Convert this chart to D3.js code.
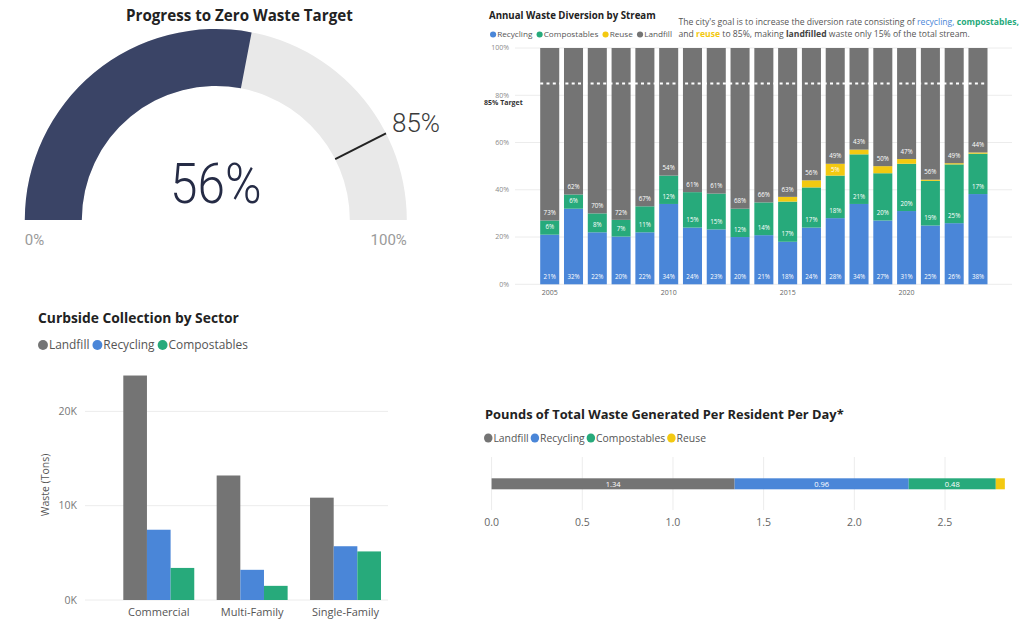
<!DOCTYPE html>
<html><head><meta charset="utf-8">
<script src="https://cdn.jsdelivr.net/npm/d3@7"></script>
<style>
html,body{margin:0;padding:0;background:#fff;}
svg{display:block;font-family:"Segoe UI","Open Sans","Noto Sans",sans-serif;}
</style></head>
<body>
<svg id="c" width="1024" height="621"></svg>
<script>
// ---------- DATA ----------
const gaugeValue = 0.56;
const gaugeTarget = 0.85;
const gaugeLabels = ["0%", "100%"];

const years = [2005,2006,2007,2008,2009,2010,2011,2012,2013,2014,2015,2016,2017,2018,2019,2020,2021,2022,2023];
const recyclingPct = [21,32,22,20,22,34,24,23,20,21,18,24,28,34,27,31,25,26,38];
const compostPct   = [6,6,8,7,11,12,15,15,12,14,17,17,18,21,20,20,19,25,17];
const reusePct     = [0,0,0,0,0,0,0,0,0,0,2,3,5,2,3,2,0.5,0.5,0.5];
const landfillPct  = [73,62,70,72,67,54,61,61,68,66,63,56,49,43,50,47,56,49,44];
const yearTicks = [2005,2010,2015,2020];
const pctTicks = [0,20,40,60,80,100];
const diversionTarget = 85;

const sectors = ["Commercial","Multi-Family","Single-Family"];
const landfillTons  = [23800,13200,10850];
const recyclingTons = [7450,3200,5700];
const compostTons   = [3400,1500,5150];
const tonTicks = [0,10000,20000];

const poundStreams = ["Landfill","Recycling","Compostables","Reuse"];
const poundValues = [1.34,0.96,0.48,0.05];
const poundTicks = [0,0.5,1.0,1.5,2.0,2.5];

const colors = {Recycling:"#4a86d8", Compostables:"#27aa7b", Reuse:"#f3c911", Landfill:"#747474"};

const svg = d3.select("#c");

function fit(sel, w){
  const len = sel.node().getComputedTextLength();
  const fs = parseFloat(sel.attr("font-size"));
  sel.attr("font-size", fs * w / len);
  return sel;
}
function legend(g, items, x, y, r, fs, gap, color, targetW){
  let cx = x;
  const grp = g.append("g");
  items.forEach(name=>{
    grp.append("circle").attr("cx", cx + r).attr("cy", y).attr("r", r).attr("fill", colors[name]);
    const t = grp.append("text").attr("x", cx + 2*r + 1).attr("y", y).attr("dy","0.35em")
      .attr("font-size", fs).attr("fill", color).text(name);
    cx += 2*r + 1 + t.node().getComputedTextLength() + gap;
  });
  if (targetW){
    const w = cx - gap - x;
    grp.attr("transform", `translate(${x},0) scale(${targetW/w},1) translate(${-x},0)`);
  }
}

// ---------- GAUGE ----------
(function(){
  const cx = 215.8, cy = 220, rO = 191, rI = 134;
  const g = svg.append("g").attr("transform", `translate(${cx},${cy})`);
  const ang = d3.scaleLinear().domain([0,1]).range([-Math.PI/2, Math.PI/2]);
  const arc = d3.arc().innerRadius(rI).outerRadius(rO);
  g.append("path").attr("d", arc({startAngle: ang(0), endAngle: ang(1)})).attr("fill","#e9e9e9");
  g.append("path").attr("d", arc({startAngle: ang(0), endAngle: ang(gaugeValue)})).attr("fill","#3a4466");
  const a = ang(gaugeTarget);
  g.append("line")
    .attr("x1", Math.sin(a)*rI).attr("y1", -Math.cos(a)*rI)
    .attr("x2", Math.sin(a)*rO).attr("y2", -Math.cos(a)*rO)
    .attr("stroke","#222").attr("stroke-width",2);
  g.append("text").attr("x", Math.sin(a)*rO + 6).attr("y", -Math.cos(a)*rO - 1)
    .attr("font-family","Roboto").attr("font-weight",300).attr("font-size",26).attr("fill","#3a3a3a")
    .text(d3.format(".0%")(gaugeTarget));
  g.append("text").attr("x", 0).attr("y", -17).attr("text-anchor","middle")
    .attr("font-family","Roboto").attr("font-weight",300).attr("font-size",55).attr("fill","#252b45")
    .attr("transform","scale(0.9,1)")
    .text(d3.format(".0%")(gaugeValue));
  g.append("text").attr("x", -rO).attr("y", 25).attr("font-size",15).attr("fill","#9a9a9a")
    .attr("font-family","Roboto").text(gaugeLabels[0]);
  g.append("text").attr("x", rO).attr("y", 25).attr("text-anchor","end").attr("font-size",15).attr("fill","#9a9a9a")
    .attr("font-family","Roboto").text(gaugeLabels[1]);
  const t = svg.append("text").attr("x",126).attr("y",21).attr("font-weight","bold").attr("font-size",15)
    .attr("fill","#222").text("Progress to Zero Waste Target");
  fit(t, 227);
})();

// ---------- ANNUAL DIVERSION ----------
(function(){
  const g = svg.append("g");
  const y = d3.scaleLinear().domain([0,100]).range([284.3, 48]);
  const x = d3.scaleBand().domain(years).range([540.2, 987.5]).paddingInner(0.2).paddingOuter(0);
  g.append("g").selectAll("line").data(pctTicks).join("line")
    .attr("x1",515).attr("x2",1012).attr("y1",d=>y(d)).attr("y2",d=>y(d))
    .attr("stroke","#ececec").attr("stroke-width",1);
  g.append("g").selectAll("text").data(pctTicks).join("text")
    .attr("x",509).attr("y",d=>y(d)).attr("dy","0.35em").attr("text-anchor","end")
    .attr("font-size",7).attr("fill","#8a8a8a").text(d=>d+"%");

  const keys = ["Recycling","Compostables","Reuse","Landfill"];
  const rows = years.map((yr,i)=>({year:yr, Recycling:recyclingPct[i], Compostables:compostPct[i], Reuse:reusePct[i], Landfill:landfillPct[i]}));
  const stack = d3.stack().keys(keys).offset(d3.stackOffsetExpand)(rows);
  stack.forEach(layer=>{
    g.append("g").selectAll("rect").data(layer).join("rect")
      .attr("x", d=>x(d.data.year)).attr("width", x.bandwidth())
      .attr("y", d=>y(d[1]*100)).attr("height", d=>Math.max(0, y(d[0]*100)-y(d[1]*100)))
      .attr("fill", colors[layer.key]);
  });
  stack.forEach(layer=>{
    const min = layer.key==="Reuse" ? 4 : 1;
    g.append("g").selectAll("text").data(layer.filter(d=>d.data[layer.key]>=min)).join("text")
      .attr("x", d=>x(d.data.year)+x.bandwidth()/2)
      .attr("y", d=> layer.key==="Reuse" ? (y(d[0]*100)+y(d[1]*100))/2 : y(d[0]*100)-7.5)
      .attr("dy","0.35em").attr("text-anchor","middle").attr("font-size",6.2).attr("fill","#fff")
      .text(d=>Math.round(d.data[layer.key])+"%");
  });
  // target
  g.append("line").attr("x1", x(years[0])).attr("x2", x(years[years.length-1])+x.bandwidth())
    .attr("y1", y(diversionTarget)).attr("y2", y(diversionTarget))
    .attr("stroke","#fff").attr("stroke-width",2).attr("stroke-dasharray","3,3.3");
  g.append("text").attr("x",484).attr("y",y(diversionTarget)+19).attr("dy","0.35em")
    .attr("font-size",7).attr("font-weight","bold").attr("fill","#333").text(diversionTarget+"% Target");
  g.append("g").selectAll("text").data(yearTicks).join("text")
    .attr("x", d=>x(d)+x.bandwidth()/2).attr("y",293).attr("dy","0.35em").attr("text-anchor","middle")
    .attr("font-size",7).attr("fill","#666").text(d=>d);

  const t = svg.append("text").attr("x",489).attr("y",18.5).attr("font-weight","bold").attr("font-size",10)
    .attr("fill","#222").text("Annual Waste Diversion by Stream");
  fit(t, 167);
  legend(svg, keys, 490, 34.5, 3, 8, 4, "#555", 182);

  const a1 = svg.append("text").attr("x",678.5).attr("y",24.5).attr("font-size",8.5).attr("fill","#555");
  a1.append("tspan").text("The city's goal is to increase the diversion rate consisting of ");
  a1.append("tspan").attr("fill",colors.Recycling).text("recycling, ");
  a1.append("tspan").attr("fill",colors.Compostables).attr("font-weight","bold").text("compostables,");
  fit(a1, 341);
  const a2 = svg.append("text").attr("x",678.5).attr("y",37).attr("font-size",8.5).attr("fill","#555");
  a2.append("tspan").text("and ");
  a2.append("tspan").attr("fill",colors.Reuse).attr("font-weight","bold").text("reuse");
  a2.append("tspan").text(" to 85%, making ");
  a2.append("tspan").attr("font-weight","bold").attr("fill","#444").text("landfilled");
  a2.append("tspan").text(" waste only 15% of the total stream.");
  a2.attr("font-size", a1.attr("font-size"));
})();

// ---------- CURBSIDE ----------
(function(){
  const g = svg.append("g");
  const y = d3.scaleLinear().domain([0,25000]).range([600, 364.2]);
  const x0 = d3.scaleBand().domain(sectors).range([123.3,381]).paddingInner(0.24).paddingOuter(0);
  const keys = ["Landfill","Recycling","Compostables"];
  const x1 = d3.scaleBand().domain(keys).range([0, x0.bandwidth()]);
  const vals = {Landfill:landfillTons, Recycling:recyclingTons, Compostables:compostTons};
  g.append("g").selectAll("line").data(tonTicks).join("line")
    .attr("x1",85).attr("x2",388).attr("y1",d=>y(d)).attr("y2",d=>y(d))
    .attr("stroke","#ececec");
  g.append("g").selectAll("text").data(tonTicks).join("text")
    .attr("x",77).attr("y",d=>y(d)).attr("dy","0.35em").attr("text-anchor","end")
    .attr("font-size",10.5).attr("fill","#777").text(d=>(d/1000)+"K");
  g.append("text").attr("transform","translate(45,485) rotate(-90)").attr("text-anchor","middle")
    .attr("dy","0.35em").attr("font-size",10.5).attr("fill","#555").text("Waste (Tons)");
  sectors.forEach((s,i)=>{
    keys.forEach(k=>{
      g.append("rect").attr("x", x0(s)+x1(k)).attr("width", x1.bandwidth())
        .attr("y", y(vals[k][i])).attr("height", y(0)-y(vals[k][i])).attr("fill", colors[k]);
    });
  });
  g.append("g").selectAll("text").data(sectors).join("text")
    .attr("x", d=>x0(d)+x0.bandwidth()/2).attr("y",612).attr("dy","0.35em").attr("text-anchor","middle")
    .attr("font-size",11).attr("fill","#555").text(d=>d);
  const t = svg.append("text").attr("x",38).attr("y",323).attr("font-weight","bold").attr("font-size",14)
    .attr("fill","#222").text("Curbside Collection by Sector");
  fit(t, 201);
  legend(svg, keys, 38, 345, 5, 12, 3, "#555", 210);
})();

// ---------- POUNDS ----------
(function(){
  const g = svg.append("g");
  const x = d3.scaleLinear().domain([0,2.5]).range([491.6, 945]);
  g.append("g").selectAll("line").data(poundTicks).join("line")
    .attr("x1",d=>x(d)).attr("x2",d=>x(d)).attr("y1",457).attr("y2",510)
    .attr("stroke","#ececec");
  g.append("g").selectAll("text").data(poundTicks).join("text")
    .attr("x",d=>x(d)).attr("y",522).attr("dy","0.35em").attr("text-anchor","middle")
    .attr("font-size",10.5).attr("fill","#666").text(d=>d3.format(".1f")(d));
  let acc = 0;
  const segs = poundStreams.map((k,i)=>{ const s = {key:k, v:poundValues[i], x0:acc, x1:acc+poundValues[i]}; acc += poundValues[i]; return s; });
  g.append("g").selectAll("rect").data(segs).join("rect")
    .attr("x", d=>x(d.x0)).attr("width", d=>x(d.x1)-x(d.x0)).attr("y",478.3).attr("height",11)
    .attr("fill", d=>colors[d.key]);
  g.append("g").selectAll("text").data(segs.filter(d=>d.v>=0.2)).join("text")
    .attr("x", d=>(x(d.x0)+x(d.x1))/2).attr("y",484).attr("dy","0.35em").attr("text-anchor","middle")
    .attr("font-size",7.5).attr("fill","#fff").text(d=>d3.format(".2f")(d.v));
  const t = svg.append("text").attr("x",485).attr("y",418.5).attr("font-weight","bold").attr("font-size",13)
    .attr("fill","#222").text("Pounds of Total Waste Generated Per Resident Per Day*");
  fit(t, 359);
  legend(svg, poundStreams, 484, 438, 4.5, 11, 2, "#555", 222);
})();
</script>
</body></html>
